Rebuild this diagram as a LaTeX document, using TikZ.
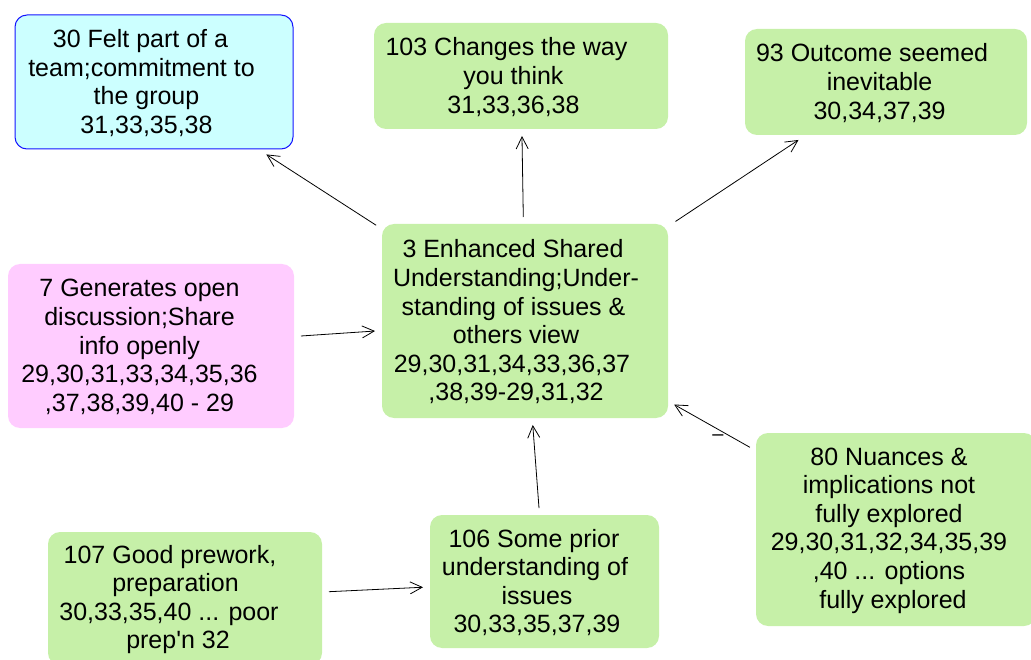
\documentclass[tikz,border=0pt]{standalone}
\usepackage{fontspec}
\setmainfont{Liberation Sans}
\usetikzlibrary{arrows.meta,calc}
\definecolor{boxgreen}{RGB}{198,240,168}
\definecolor{boxpink}{RGB}{255,204,255}
\definecolor{boxcyan}{RGB}{204,255,255}
\definecolor{boxblue}{RGB}{20,20,255}
% trailing/leading gap left by the line wrapping of each card
\newcommand{\tsp}[1]{\kern#1pt}

\begin{document}
\begin{tikzpicture}[x=1pt,y=-1pt,
  card/.style={rectangle, rounded corners=12pt, inner sep=0pt, outer sep=0pt},
  greencard/.style={card, fill=boxgreen},
  boxtext/.style={align=center, inner sep=0pt, font=\fontsize{25pt}{28.6pt}\selectfont},
  link/.style={draw=black, line width=0.8pt,
    -{Straight Barb[length=12pt,width=12pt]}, shorten <=7pt, shorten >=7pt}
]
\useasboundingbox (0,0) rectangle (1031,660);
\clip (0,0) rectangle (1031,660);

% cards
\node[card, fill=boxcyan, draw=boxblue, line width=1pt,
      minimum width=278pt, minimum height=134pt] (b30) at (154,82) {};
\node[greencard, minimum width=294pt, minimum height=106pt] (b103) at (521,76) {};
\node[greencard, minimum width=282pt, minimum height=106pt] (b93) at (886,82) {};
\node[greencard, minimum width=286pt, minimum height=194pt] (b3) at (525,321) {};
\node[card, fill=boxpink, minimum width=286pt, minimum height=164pt] (b7) at (151,346) {};
\node[greencard, minimum width=274pt, minimum height=133pt] (b107) at (185,598.5) {};
\node[greencard, minimum width=229pt, minimum height=133pt] (b106) at (544.5,581.5) {};
\node[greencard, minimum width=280pt, minimum height=193pt] (b80) at (896,529.5) {};

% card texts
\node[boxtext] (t30) at ($(b30.center)+(-7.5,1)$)
  {30 Felt part of a\tsp{12}\\team;commitment to\tsp{10}\\the group\\31,33,35,38};
\node[boxtext] (t103) at ($(b103.center)+(-7.5,1)$)
  {103 Changes the way\tsp{14}\\you think\\31,33,36,38};
\node[boxtext] (t93) at ($(b93.center)+(-6.4,1)$)
  {93 Outcome seemed\tsp{15}\\inevitable\\30,34,37,39};
\node[boxtext] (t3) at ($(b3.center)+(-9,1)$)
  {3 Enhanced Shared\tsp{6}\\Understanding;Under-\\standing of issues \&\tsp{5}\\others view\\29,30,31,34,33,36,37\tsp{8}\\,38,39-29,31,32};
\node[boxtext] (t7) at ($(b7.center)+(-11.5,1)$)
  {7 Generates open\\discussion;Share\\info openly\\29,30,31,33,34,35,36\\,37,38,39,40 - 29};
\node[boxtext] (t107) at ($(b107.center)+(-7,1)$)
  {107 Good prework,\tsp{16}\\preparation\tsp{5}\\30,33,35,40 ... poor\tsp{18}\\prep\textquotesingle n 32};
\node[boxtext] (t106) at ($(b106.center)+(-7.5,1)$)
  {106 Some prior\tsp{6}\\understanding of\tsp{4}\\issues\\30,33,35,37,39};
\node[boxtext] (t80) at ($(b80.center)+(-7,1)$)
  {80 Nuances \&\\implications not\\fully explored\\29,30,31,32,34,35,39\\,40 ... options\\\tsp{8}fully explored};

% connectors
\draw[link, shorten >=10pt] (b3) -- (b30);
\draw[link] (b3) -- (b103);
\draw[link, shorten <=9pt, shorten >=9pt] (b3) -- (b93);
\draw[link] (b7) -- (b3);
\draw[link] (b80) -- (b3);
\draw[link] (b106) -- (b3);
\draw[link] (b107) -- (b106);

% sign on the link from card 80
\node[font=\fontsize{20pt}{24pt}\selectfont, inner sep=0pt] (neg) at (718,437.5) {–};
\end{tikzpicture}
\end{document}
